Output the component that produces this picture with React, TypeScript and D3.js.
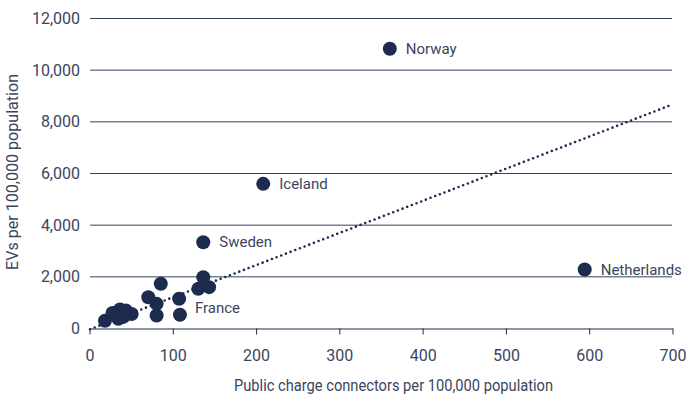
import React from "react";
import * as d3 from "d3";

const countries = ["Norway", "Iceland", "Sweden", "Netherlands", "France", "", "", "", "", "", "", "", "", "", "", "", "", "", "", ""];
const connectors = [360, 208, 136, 594, 108, 85, 70, 80, 80, 107, 136, 130, 143, 18, 27, 36, 43, 50, 34, 40];
const evs = [10830, 5600, 3340, 2284, 530, 1730, 1210, 955, 503, 1150, 1985, 1535, 1600, 300, 600, 740, 700, 560, 380, 450];

const xTicks = [0, 100, 200, 300, 400, 500, 600, 700];
const yTicks = [0, 2000, 4000, 6000, 8000, 10000, 12000];
const trendX = [0, 700];
const trendY = [-30, 8680];

const W = 688;
const H = 400;
const NAVY = "#1d2b4e";
const TEXT = "#3b4560";
const FONT = "Roboto, 'Liberation Sans', sans-serif";

export default function App() {
  const x = d3.scaleLinear().domain([0, 700]).range([90, 673]);
  const y = d3.scaleLinear().domain([0, 12000]).range([328.5, 18.5]);
  const line = d3
    .line<number>()
    .x((d) => x(trendX[d]))
    .y((d) => y(trendY[d]));

  const labelOffset: Record<string, [number, number]> = {
    France: [15, -7],
  };

  return (
    <svg
      width={W}
      height={H}
      style={{ position: "absolute", left: 0, top: 0, background: "#fff" }}
      fontFamily={FONT}
    >
      {yTicks.filter((t) => t > 0).map((t) => (
        <line key={"g" + t} x1={x(0)} x2={672} y1={y(t)} y2={y(t)} stroke="#34415f" strokeWidth={1} />
      ))}
      <line x1={x(0)} x2={x(700)} y1={y(0) + 0.5} y2={y(0) + 0.5} stroke={NAVY} strokeWidth={1.2} />
      {xTicks.map((t) => (
        <line key={"t" + t} x1={x(t)} x2={x(t)} y1={y(0)} y2={y(0) + 6} stroke={NAVY} strokeWidth={1} />
      ))}
      {yTicks.map((t) => (
        <text key={"yl" + t} x={80} y={y(t)} dy="0.35em" textAnchor="end" fontSize={16} fill={TEXT}>
          {d3.format(",")(t)}
        </text>
      ))}
      {xTicks.map((t) => (
        <text key={"xl" + t} x={x(t)} y={361} textAnchor="middle" fontSize={16} fill={TEXT}>
          {t}
        </text>
      ))}
      <text
        x={393.5}
        y={391}
        textAnchor="middle"
        fontSize={16}
        fill={TEXT}
        textLength={319}
        lengthAdjust="spacingAndGlyphs"
      >
        Public charge connectors per 100,000 population
      </text>
      <text
        transform="translate(18,172) rotate(-90)"
        textAnchor="middle"
        fontSize={16}
        fill={TEXT}
        textLength={196}
        lengthAdjust="spacingAndGlyphs"
      >
        EVs per 100,000 population
      </text>
      {connectors.map((c, i) => (
        <circle key={"c" + i} cx={x(c)} cy={y(evs[i])} r={7} fill={NAVY} />
      ))}
      <path
        d={line([0, 1]) || ""}
        fill="none"
        stroke={NAVY}
        strokeWidth={2.6}
        strokeDasharray="0 5"
        strokeLinecap="round"
      />
      {countries.map((n, i) =>
        n ? (
          <text
            key={"n" + i}
            x={x(connectors[i]) + (labelOffset[n] ? labelOffset[n][0] : 16)}
            y={y(evs[i]) + (labelOffset[n] ? labelOffset[n][1] : 0)}
            dy="0.35em"
            fontSize={15}
            fill={TEXT}
          >
            {n}
          </text>
        ) : null
      )}
    </svg>
  );
}
